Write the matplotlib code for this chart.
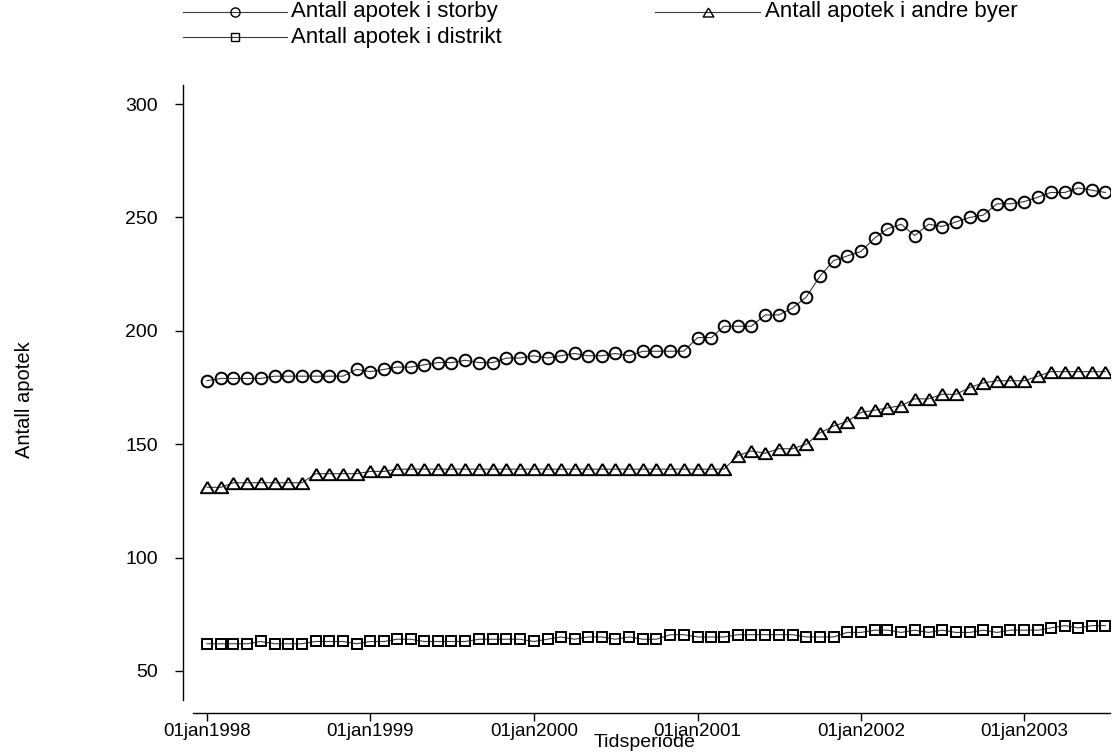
import datetime as dt

import matplotlib
matplotlib.use("Agg")
import matplotlib.pyplot as plt
import matplotlib.dates as mdates
from matplotlib.lines import Line2D

plt.rcParams['font.family'] = ['Liberation Sans', 'DejaVu Sans']

# Monthly observations, January 1998 through July 2003
first_month = dt.date(1998, 1, 1)
n_months = 67
periods = [dt.date(first_month.year + (first_month.month - 1 + i) // 12,
                   (first_month.month - 1 + i) % 12 + 1, 1) for i in range(n_months)]

storby = [178, 179, 179, 179, 179, 180, 180, 180, 180, 180, 180, 183,
          182, 183, 184, 184, 185, 186, 186, 187, 186, 186, 188, 188,
          189, 188, 189, 190, 189, 189, 190, 189, 191, 191, 191, 191,
          197, 197, 202, 202, 202, 207, 207, 210, 215, 224, 231, 233,
          235, 241, 245, 247, 242, 247, 246, 248, 250, 251, 256, 256,
          257, 259, 261, 261, 263, 262, 261]

andre_byer = [131, 131, 133, 133, 133, 133, 133, 133, 137, 137, 137, 137,
              138, 138, 139, 139, 139, 139, 139, 139, 139, 139, 139, 139,
              139, 139, 139, 139, 139, 139, 139, 139, 139, 139, 139, 139,
              139, 139, 139, 145, 147, 146, 148, 148, 150, 155, 158, 160,
              164, 165, 166, 167, 170, 170, 172, 172, 175, 177, 178, 178,
              178, 180, 182, 182, 182, 182, 182]

distrikt = [62, 62, 62, 62, 63, 62, 62, 62, 63, 63, 63, 62,
            63, 63, 64, 64, 63, 63, 63, 63, 64, 64, 64, 64,
            63, 64, 65, 64, 65, 65, 64, 65, 64, 64, 66, 66,
            65, 65, 65, 66, 66, 66, 66, 66, 65, 65, 65, 67,
            67, 68, 68, 67, 68, 67, 68, 67, 67, 68, 67, 68,
            68, 68, 69, 70, 69, 70, 70]

y_ticks = [50, 100, 150, 200, 250, 300]
x_tick_dates = [dt.date(y, 1, 1) for y in range(1998, 2004)]

labels = ["Antall apotek i storby", "Antall apotek i andre byer",
          "Antall apotek i distrikt"]

TRI = [(0, 0.85), (-1, -0.85), (1, -0.85), (0, 0.85)]
styles = [
    dict(marker='o', ms=8.4),
    dict(marker=TRI, ms=9.6),
    dict(marker='s', ms=7.4),
]

W, H = 1115, 753
fig = plt.figure(figsize=(W / 100, H / 100), dpi=100)
ax = fig.add_axes([193 / W, 1 - 700 / H, (1110 - 193) / W, (700 - 85) / H])

line_kw = dict(color='#3a3a3a', lw=0.8, mec='black', mfc='none', mew=1.4)
for vals, st in zip([storby, andre_byer, distrikt], styles):
    ax.plot(periods, vals, **st, **line_kw)

x0 = mdates.date2num(first_month)
ax.set_xlim(x0 - 31.3, x0 + 2017.3)
ax.set_ylim(37.2, 308.4)

ax.set_yticks(y_ticks)
ax.set_yticklabels([str(v) for v in y_ticks])
ax.set_xticks(x_tick_dates)
ax.set_xticklabels([d.strftime('%d') + d.strftime('%b').lower() + d.strftime('%Y')
                    for d in x_tick_dates])

for side in ('top', 'right'):
    ax.spines[side].set_visible(False)
ax.spines['left'].set_position(('outward', 7.2))
ax.spines['bottom'].set_position(('outward', 9.4))
for side in ('left', 'bottom'):
    ax.spines[side].set_linewidth(1.0)
ax.tick_params(axis='both', direction='out', length=6, width=1.0,
               labelsize=14, colors='black')
ax.tick_params(axis='y', pad=12)
ax.tick_params(axis='x', pad=1.5, labelsize=13.5)

fig.text(645 / W, 1 - 751 / H, 'Tidsperiode', fontsize=14,
         ha='center', va='bottom')
fig.text(25 / W, 1 - 400 / H, 'Antall apotek', rotation=90, fontsize=14.5,
         ha='center', va='center')

# Legend laid out in two columns above the plot region
legend_slots = [(183, 287, 291, 12), (655, 760, 765, 12), (183, 287, 291, 37)]
leg_ms = [6.6, 7.6, 6.0]
for (xa, xb, xt, yy), lab, st, ms in zip(legend_slots, labels, styles, leg_ms):
    fy = 1 - yy / H
    fig.add_artist(Line2D([xa / W, xb / W], [fy, fy], transform=fig.transFigure,
                          color='#3a3a3a', lw=0.8))
    fig.add_artist(Line2D([(xa + xb) / 2 / W], [fy], transform=fig.transFigure,
                          marker=st['marker'], ms=ms, mfc='none', mec='black',
                          mew=1.0, ls='none'))
    fig.text(xt / W, fy, lab, fontsize=16, ha='left', va='center')

fig.savefig('out.png', dpi=100, facecolor='white')
